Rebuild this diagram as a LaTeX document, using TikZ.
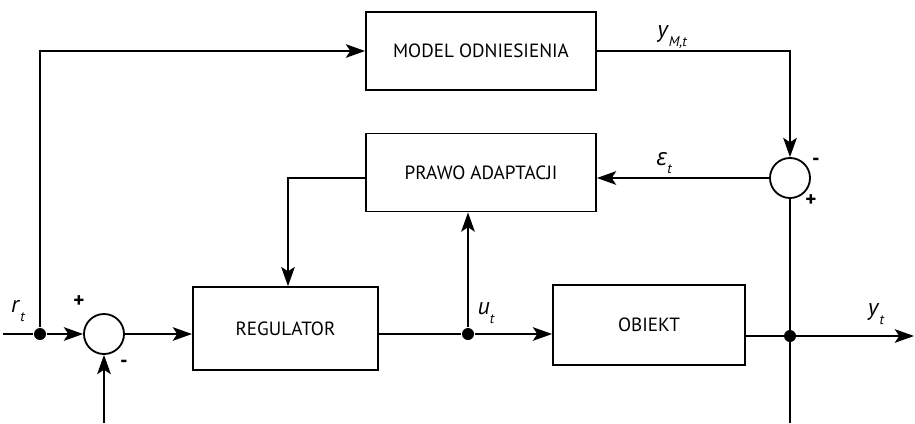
\documentclass[tikz,border=0pt]{standalone}
\usepackage{fontspec}
\setmainfont{PT Sans}
\newfontfamily\grk{Open Sans}
\usetikzlibrary{arrows.meta}

\newcommand{\sig}[2]{\textit{#1}\raisebox{-0.7ex}{\fontsize{10}{11}\selectfont\itshape #2}}

\begin{document}
\begin{tikzpicture}[
  x=0.025cm,y=-0.025cm,
  font=\fontsize{13.6}{15}\selectfont,
  box/.style={draw,inner sep=0pt},
  sum/.style={draw,circle,minimum size=1cm,inner sep=0pt},
  junction/.style={circle,fill,minimum size=0.3cm,inner sep=0pt},
  lbl/.style={font=\fontsize{17}{18}\selectfont,inner sep=0pt},
  sgn/.style={font=\bfseries\fontsize{15}{16}\selectfont,inner sep=0pt},
  >={Stealth[length=0.48cm,width=0.34cm,inset=0.11cm]},
  every path/.style={line width=1.3pt}
]
  \useasboundingbox (0,0) rectangle (915,423);

  % blocks
  \node[box,minimum width=5.75cm,minimum height=1.95cm] (model) at (481,51)
    {MODEL ODNIESIENIA};
  \node[box,minimum width=5.75cm,minimum height=1.95cm] (prawo) at (481,172.5)
    {PRAWO ADAPTACJI};
  \node[box,minimum width=4.63cm,minimum height=2.07cm] (reg) at (285.5,328.5)
    {REGULATOR};
  \node[box,minimum width=4.8cm,minimum height=2cm] (obj) at (649,325)
    {OBIEKT};

  % summing points and junctions
  \node[sum] (sumL) at (104,334) {};
  \node[sum] (sumR) at (790,178) {};
  \node[junction] (jr) at (40,334) {};
  \node[junction] (ju) at (468,334) {};
  \node[junction] (jy) at (790,336) {};

  \coordinate (in) at (3,334);
  \coordinate (out) at (914,336);
  \coordinate (fbL) at (104,423);
  \coordinate (fbR) at (790,423);

  % connectors
  \draw (in) -- (jr);
  \draw[->] (jr) -- (sumL.west);
  \draw[->] (jr) |- (model.west);
  \draw[->] (model.east) -| (sumR.north);
  \draw[->] (sumR.west) -- (sumR.west -| prawo.east);
  \draw[->] (prawo.west |- sumR) -| (reg.north -| 288,0);
  \draw[->] (sumL.east) -- (sumL.east -| reg.west);
  \draw (reg.east |- ju) -- (ju);
  \draw[->] (ju) -- (ju -| obj.west);
  \draw[->] (ju) -- (ju |- prawo.south);
  \draw[->] (obj.east |- jy) -- (out);
  \draw (sumR.south) -- (fbR);
  \draw[->] (fbL) -- (sumL.south);

  % labels
  \node[lbl] (lr) at (18,311) {\sig{r}{t}};
  \node[lbl] (lu) at (486,313) {\sig{u}{t}};
  \node[lbl] (ly) at (876,314) {\sig{y}{t}};
  \node[lbl] (le) at (664,163) {\sig{\grk\char"03B5}{t}};
  \node[lbl] (lm) at (672,37) {\sig{y}{M,t}};
  \node[sgn] (pL) at (79,302) {+};
  \node[sgn] (mL) at (124,364) {-};
  \node[sgn] (pR) at (811,201) {+};
  \node[sgn] (mR) at (816,162) {-};
\end{tikzpicture}
\end{document}
